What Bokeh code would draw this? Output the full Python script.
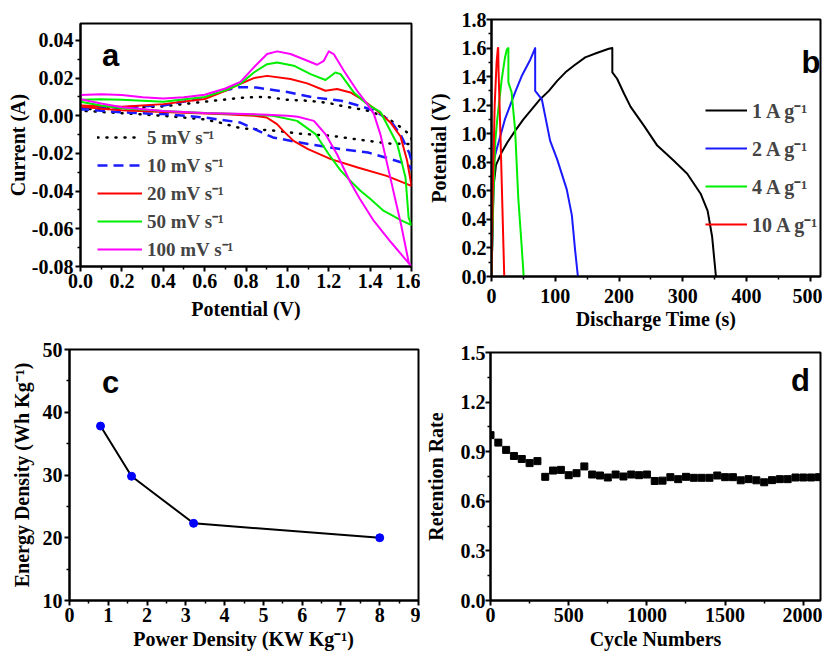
from bokeh.plotting import figure
from bokeh.models import FixedTicker, NumeralTickFormatter, Legend, LegendItem, Label, Range1d
from bokeh.layouts import column, row
from bokeh.embed import file_html
from bokeh.resources import INLINE

# ---------------- Panel a: cyclic voltammetry ----------------
cv5_v = [0.0, 0.2, 0.4, 0.6, 0.8, 0.9, 1.0, 1.1, 1.2, 1.26, 1.39, 1.48, 1.56, 1.60,
         1.60, 1.50, 1.39, 1.21, 1.06, 0.95, 0.80, 0.76, 0.67, 0.59, 0.4, 0.2, 0.0]
cv5_i = [0.0035, 0.0040, 0.0050, 0.0075, 0.0098, 0.0100, 0.0085, 0.0080, 0.0068, 0.0053, 0.0027, -0.0009, -0.0070, -0.0110,
         -0.0150, -0.0148, -0.0133, -0.0106, -0.0095, -0.0080, -0.0068, -0.0062, -0.0035, -0.0018, 0.0000, 0.0014, 0.0027]

cv10_v = [0.0, 0.2, 0.4, 0.6, 0.7, 0.77, 0.85, 1.0, 1.13, 1.26, 1.35, 1.42, 1.50, 1.55, 1.59, 1.60,
          1.60, 1.58, 1.50, 1.39, 1.26, 1.10, 0.93, 0.85, 0.77, 0.6, 0.4, 0.2, 0.0]
cv10_i = [0.0042, 0.0045, 0.0055, 0.0095, 0.0135, 0.0152, 0.0150, 0.0126, 0.0097, 0.0080, 0.0053, 0.0027, -0.0027, -0.0106, -0.0200, -0.0240,
          -0.0285, -0.0257, -0.0230, -0.0195, -0.0177, -0.0150, -0.0115, -0.0075, -0.0035, -0.0009, 0.0009, 0.0018, 0.0035]

cv20_v = [0.0, 0.2, 0.4, 0.6, 0.7, 0.773, 0.838, 0.902, 1.015, 1.096, 1.184, 1.24, 1.305, 1.37, 1.434, 1.498, 1.547, 1.579, 1.60,
          1.60, 1.48, 1.34, 1.21, 1.10, 1.03, 0.98, 0.95, 0.90, 0.84, 0.7, 0.6, 0.4, 0.2, 0.1, 0.0]
cv20_i = [0.0055, 0.0048, 0.0062, 0.0089, 0.0133, 0.0170, 0.0200, 0.0212, 0.0195, 0.0172, 0.0133, 0.0142, 0.0124, 0.0080, 0.0027, -0.0035, -0.0110, -0.0239, -0.0372,
          -0.0372, -0.0319, -0.0274, -0.0230, -0.0177, -0.0133, -0.0080, -0.0044, -0.0009, 0.0000, 0.0008, 0.0012, 0.0020, 0.0030, 0.0038, 0.0050]

cv50_v = [0.0, 0.1, 0.2, 0.4, 0.6, 0.7, 0.773, 0.838, 0.902, 0.951, 1.031, 1.112, 1.184, 1.232, 1.257, 1.321, 1.386, 1.45, 1.531, 1.571, 1.586, 1.60,
          1.60, 1.55, 1.50, 1.466, 1.40, 1.353, 1.30, 1.257, 1.20, 1.136, 1.047, 0.93, 0.8, 0.6, 0.4, 0.2, 0.1, 0.0]
cv50_i = [0.0085, 0.0088, 0.0085, 0.0075, 0.0100, 0.0135, 0.0170, 0.0230, 0.0274, 0.0283, 0.0266, 0.0221, 0.0190, 0.0230, 0.0221, 0.0124, 0.0062, 0.0020, -0.0150, -0.0327, -0.0540, -0.0580,
          -0.0580, -0.0555, -0.0525, -0.0505, -0.0440, -0.0398, -0.0340, -0.0290, -0.0204, -0.0097, -0.0027, 0.0000, 0.0008, 0.0015, 0.0025, 0.0040, 0.0055, 0.0075]

cv100_v = [0.0, 0.1, 0.2, 0.3, 0.4, 0.5, 0.6, 0.7, 0.773, 0.838, 0.902, 0.951, 1.015, 1.079, 1.144, 1.176, 1.20, 1.224, 1.273, 1.337, 1.386, 1.418, 1.45, 1.50, 1.55, 1.587, 1.60,
           1.60, 1.50, 1.418, 1.35, 1.305, 1.24, 1.184, 1.128, 1.05, 1.0, 0.9, 0.8, 0.6, 0.4, 0.2, 0.1, 0.0]
cv100_i = [0.0110, 0.0115, 0.0110, 0.0098, 0.0092, 0.0098, 0.0112, 0.0145, 0.0180, 0.0257, 0.0328, 0.0342, 0.0328, 0.0300, 0.0271, 0.0292, 0.0342, 0.0328, 0.0239, 0.0133, 0.0062, 0.0010, -0.0100, -0.0340, -0.0580, -0.0780, -0.0800,
           -0.0800, -0.0670, -0.0558, -0.0440, -0.0354, -0.0204, -0.0097, -0.0027, -0.0005, 0.0000, 0.0005, 0.0010, 0.0015, 0.0025, 0.0045, 0.0065, 0.0088]

cv_labels = ["5 mV s\u207b\u00b9", "10 mV s\u207b\u00b9", "20 mV s\u207b\u00b9", "50 mV s\u207b\u00b9", "100 mV s\u207b\u00b9"]

# ---------------- Panel b: galvanostatic charge/discharge ----------------
cd1_t = [0, 3, 7, 16, 25, 37, 50, 63, 76, 90, 103, 116, 130, 147, 165, 184, 189.5, 189.5, 197, 208, 218, 239, 260, 286, 307, 328, 339, 346, 352]
cd1_v = [0, 0.62, 0.78, 0.87, 0.94, 1.02, 1.10, 1.17, 1.24, 1.30, 1.37, 1.43, 1.48, 1.535, 1.565, 1.595, 1.60, 1.43, 1.385, 1.28, 1.19, 1.057, 0.917, 0.81, 0.72, 0.58, 0.46, 0.28, 0.0]
cd2_t = [0, 4, 8, 21, 37, 48, 61, 68.5, 68.5, 79, 92, 103, 118, 126, 131, 135.5]
cd2_v = [0, 0.82, 0.89, 1.10, 1.29, 1.41, 1.52, 1.60, 1.30, 1.24, 0.95, 0.82, 0.61, 0.43, 0.19, 0]
cd4_t = [0, 3, 6, 9, 16, 21, 24, 26.5, 26.5, 31.5, 37, 42, 47.5, 50.5]
cd4_v = [0, 0.55, 0.95, 1.10, 1.38, 1.53, 1.59, 1.60, 1.36, 1.29, 1.03, 0.55, 0.20, 0]
cd10_t = [0, 2, 5, 8, 10, 10.5, 11, 14, 17, 20]
cd10_v = [0, 0.6, 1.2, 1.5, 1.6, 1.6, 1.45, 1.0, 0.5, 0]
cd_labels = ["1 A g\u207b\u00b9", "2 A g\u207b\u00b9", "4 A g\u207b\u00b9", "10 A g\u207b\u00b9"]

# ---------------- Panel c: Ragone ----------------
power_density = [0.8, 1.6, 3.2, 8.0]
energy_density = [37.8, 29.8, 22.3, 20.0]

# ---------------- Panel d: cycling ----------------
cycles = [0, 50, 100, 150, 200, 250, 300, 350, 400, 450, 500, 550, 600, 650, 700, 750, 800, 850, 900, 950, 1000,
          1050, 1100, 1150, 1200, 1250, 1300, 1350, 1400, 1450, 1500, 1550, 1600, 1650, 1700, 1750, 1800, 1850,
          1900, 1950, 2000, 2050, 2100]
retention = [1.0, 0.955, 0.911, 0.874, 0.856, 0.831, 0.843, 0.748, 0.786, 0.790, 0.758, 0.770, 0.811, 0.762, 0.756,
             0.744, 0.762, 0.750, 0.762, 0.758, 0.762, 0.723, 0.725, 0.746, 0.734, 0.748, 0.742, 0.742, 0.742, 0.756,
             0.746, 0.746, 0.727, 0.734, 0.727, 0.715, 0.728, 0.734, 0.734, 0.744, 0.744, 0.744, 0.746]

SERIF = "Liberation Serif"
SANS = "Liberation Sans"
TICK_FS = "20px"
LABEL_FS = "20px"


def make_fig(w, h, bl, br, bt, bb, xr, yr):
    p = figure(width=w, height=h, output_backend="svg", toolbar_location=None, title=None,
               x_range=Range1d(*xr), y_range=Range1d(*yr),
               min_border_left=bl, min_border_right=br, min_border_top=bt, min_border_bottom=bb)
    p.xgrid.visible = False
    p.ygrid.visible = False
    p.outline_line_color = "black"
    p.outline_line_width = 2
    p.outline_line_alpha = 1
    p.background_fill_color = "white"
    p.border_fill_color = "white"
    for ax in (p.xaxis[0], p.yaxis[0]):
        ax.axis_line_width = 2
        ax.major_tick_line_width = 2
        ax.minor_tick_line_width = 1.5
        ax.major_tick_in = 0
        ax.major_tick_out = 5
        ax.minor_tick_in = 0
        ax.minor_tick_out = 3
        ax.major_label_text_font = SERIF
        ax.major_label_text_font_style = "bold"
        ax.major_label_text_font_size = TICK_FS
        ax.major_label_text_color = "black"
        ax.axis_label_text_font = SERIF
        ax.axis_label_text_font_style = "bold"
        ax.axis_label_text_font_size = LABEL_FS
        ax.axis_label_text_color = "black"
    return p


def ticks(ax, major, minor, fmt, label_standoff, axis_standoff):
    ax.ticker = FixedTicker(ticks=major, minor_ticks=minor)
    ax.formatter = NumeralTickFormatter(format=fmt)
    ax.major_label_standoff = label_standoff
    ax.axis_label_standoff = axis_standoff


def letter(p, x, y, t):
    p.add_layout(Label(x=x, y=y, text=t, text_font=SANS, text_font_style="bold",
                       text_font_size="31px", text_align="center", text_baseline="middle",
                       text_color="black"))


# ---- Panel a ----
pa = make_fig(420, 337, 80, 9, 23, 71, (0, 1.6), (-0.08, 0.049))
ticks(pa.xaxis[0], [0.2 * k for k in range(9)], [0.1 + 0.2 * k for k in range(8)], "0.0", 2, 7)
ticks(pa.yaxis[0], [-0.08, -0.06, -0.04, -0.02, 0.0, 0.02, 0.04], [-0.07, -0.05, -0.03, -0.01, 0.01, 0.03], "0.00", 2, 0)
pa.xaxis[0].axis_label = "Potential (V)"
pa.yaxis[0].axis_label = "Current (A)"
cv_sets = [(cv5_v, cv5_i, "black", "1 8", 2.5), (cv10_v, cv10_i, "#1a1aff", "10 6", 2.5),
           (cv20_v, cv20_i, "#ff0000", "solid", 2), (cv50_v, cv50_i, "#00ee00", "solid", 2),
           (cv100_v, cv100_i, "#ff00ff", "solid", 2)]
items_a = []
for (vx, iy, col, dash, lw), lab in zip(cv_sets, cv_labels):
    r = pa.line(vx, iy, line_color=col, line_width=lw, line_dash=dash, line_cap="round" if dash == "1 8" else "butt",
                line_join="round")
    items_a.append(LegendItem(label=lab, renderers=[r]))
leg_a = Legend(items=items_a, location=(17, 3), label_text_font=SERIF, label_text_font_style="bold",
               label_text_font_size="19px", glyph_width=45, glyph_height=28, label_height=28, spacing=0,
               padding=0, margin=0, label_standoff=5, border_line_alpha=0, background_fill_alpha=0)
pa.add_layout(leg_a)
letter(pa, 0.145, 0.0319, "a")

# ---- Panel b ----
pb = make_fig(402, 337, 71, 2, 19, 61, (0, 516), (0, 1.8))
ticks(pb.xaxis[0], [0, 100, 200, 300, 400, 500], [50, 150, 250, 350, 450], "0", 7, 2)
ticks(pb.yaxis[0], [0.2 * k for k in range(10)], [0.1 + 0.2 * k for k in range(9)], "0.0", 0, 9)
pb.xaxis[0].axis_label = "Discharge Time (s)"
pb.yaxis[0].axis_label = "Potential (V)"
cd_sets = [(cd1_t, cd1_v, "black"), (cd2_t, cd2_v, "#1a1aff"), (cd4_t, cd4_v, "#00ee00"), (cd10_t, cd10_v, "#ff0000")]
items_b = []
for (tx, vy, col), lab in zip(cd_sets, cd_labels):
    r = pb.line(tx, vy, line_color=col, line_width=2, line_join="round")
    items_b.append(LegendItem(label=lab, renderers=[r]))
leg_b = Legend(items=items_b, location=(214, 33), label_text_font=SERIF, label_text_font_style="bold",
               label_text_font_size="20px", glyph_width=42, glyph_height=38, label_height=38, spacing=0,
               padding=0, margin=0, label_standoff=5, border_line_alpha=0, background_fill_alpha=0)
pb.add_layout(leg_b)
letter(pb, 501, 1.50, "b")

# ---- Panel c ----
pc = make_fig(420, 319, 69, 2, 12, 56, (0, 9), (10, 50))
ticks(pc.xaxis[0], list(range(10)), [0.5 + k for k in range(9)], "0", 2, 3)
ticks(pc.yaxis[0], [10, 20, 30, 40, 50], [15, 25, 35, 45], "0", 2, 7)
pc.xaxis[0].axis_label = "Power Density (KW Kg\u207b\u00b9)"
pc.yaxis[0].axis_label = "Energy Density (Wh Kg\u207b\u00b9)"
pc.line(power_density, energy_density, line_color="black", line_width=2)
pc.scatter(power_density, energy_density, marker="circle", size=8, fill_color="#0000ff", line_color="#0000ff")
letter(pc, 1.06, 44.7, "c")

# ---- Panel d ----
pd_ = make_fig(402, 319, 70, 2, 15, 56, (0, 2110), (0, 1.5))
ticks(pd_.xaxis[0], [0, 500, 1000, 1500, 2000], [250, 750, 1250, 1750], "0", 2, 3)
ticks(pd_.yaxis[0], [0.0, 0.3, 0.6, 0.9, 1.2, 1.5], [0.15, 0.45, 0.75, 1.05, 1.35], "0.0", 0, 11)
pd_.xaxis[0].axis_label = "Cycle Numbers"
pd_.yaxis[0].axis_label = "Retention Rate"
pd_.scatter(cycles, retention, marker="square", size=7, fill_color="black", line_color="black")
letter(pd_, 1982, 1.33, "d")

layout = column(row(column(pa), column(pb)), row(column(pc), column(pd_)))
open("out.html", "w").write(file_html(layout, INLINE))
